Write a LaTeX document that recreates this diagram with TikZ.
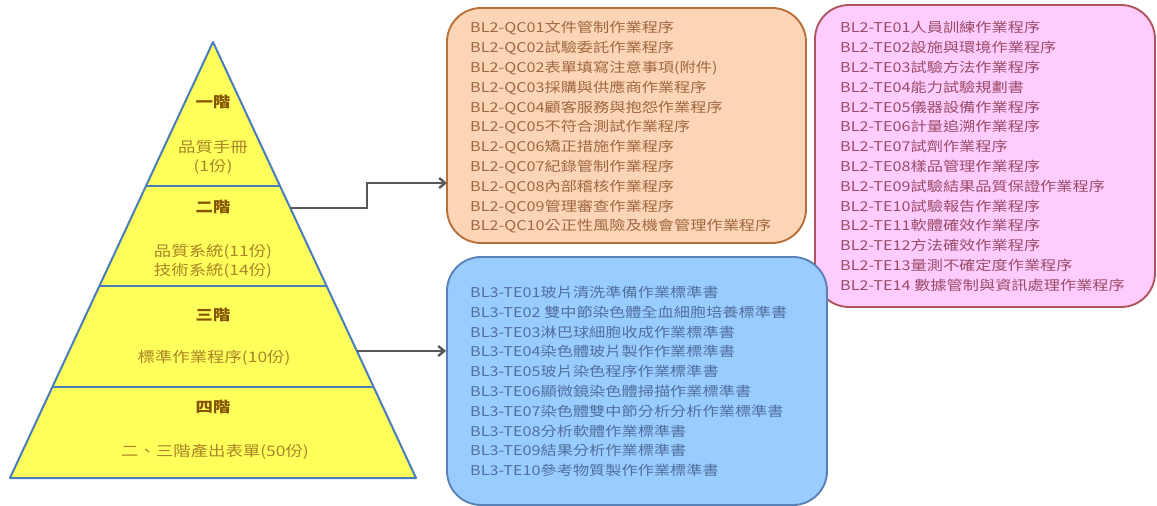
\documentclass[tikz,border=0pt]{standalone}
\usepackage{fontspec}
\newfontfamily\zhfont[FakeStretch=1.2]{Noto Sans CJK TC}
\usetikzlibrary{arrows.meta}
\definecolor{tierfill}{HTML}{FFFF5C}
\definecolor{tierline}{HTML}{4A7EBB}
\definecolor{tierhead}{HTML}{845404}
\definecolor{tiertext}{HTML}{AA8426}
\definecolor{qcfill}{HTML}{FBD5B5}
\definecolor{qcline}{HTML}{B8703A}
\definecolor{qcink}{HTML}{A06842}
\definecolor{tefill}{HTML}{FFCCFF}
\definecolor{teline}{HTML}{B05560}
\definecolor{teink}{HTML}{9A4C66}
\definecolor{blfill}{HTML}{99CCFF}
\definecolor{blline}{HTML}{5A82B8}
\definecolor{blink}{HTML}{52709C}
\definecolor{linkgray}{HTML}{585858}
\begin{document}
\begin{tikzpicture}[x=1pt,y=-1pt,
tier/.style={fill=tierfill,draw=tierline,line width=2pt,line join=round},
divider/.style={draw=tierline,line width=2.8pt},
level/.style={font=\zhfont\fontsize{14.5}{18}\selectfont\bfseries,text=tierhead},
count/.style={align=center,font=\zhfont\fontsize{14.5}{19}\selectfont,text=tiertext},
listbox/.style={rounded corners=34pt,line width=1.9pt,inner sep=0pt},
list/.style={anchor=west,align=left,inner sep=0pt,font=\zhfont\fontsize{13.5}{19.8}\selectfont},
link/.style={-{Straight Barb[length=6pt,width=10pt]},line width=2.4pt,draw=linkgray},
]
\useasboundingbox(0,0)rectangle(1157,506);
%pyramid
\draw[tier](213,42)--(416,478)--(10,478)--cycle;
\draw[divider](146,186)--(280,186);
\draw[divider](99.4,286)--(326.6,286);
\draw[divider](52.4,387)--(373.6,387);
%tiers
\node[level](l1)at(213,102){一階};
\node[count](c1)at(213,157.5){品質手冊\\(1份)};
\node[level](l2)at(213,207){二階};
\node[count](c2)at(213,261.5){品質系統(11份)\\技術系統(14份)};
\node[level](l3)at(213,315){三階};
\node[count](c3)at(214,358){標準作業程序(10份)};
\node[level](l4)at(213,407){四階};
\node[count](c4)at(215,452){二、三階產出表單(50份)};
%document boxes
\node[listbox,fill=qcfill,draw=qcline,minimum width=359,minimum height=235](qc)at(626.5,125.5){};
\node[list,text=qcink](qcdocs)at(470,127.5){%
BL2-QC01文件管制作業程序\\
BL2-QC02試驗委託作業程序\\
BL2-QC02表單填寫注意事項(附件)\\
BL2-QC03採購與供應商作業程序\\
BL2-QC04顧客服務與抱怨作業程序\\
BL2-QC05不符合測試作業程序\\
BL2-QC06矯正措施作業程序\\
BL2-QC07紀錄管制作業程序\\
BL2-QC08內部稽核作業程序\\
BL2-QC09管理審查作業程序\\
BL2-QC10公正性風險及機會管理作業程序};
\node[listbox,fill=tefill,draw=teline,minimum width=340,minimum height=302](te)at(985,156){};
\node[list,text=teink](tedocs)at(840,156.5){%
BL2-TE01人員訓練作業程序\\
BL2-TE02設施與環境作業程序\\
BL2-TE03試驗方法作業程序\\
BL2-TE04能力試驗規劃書\\
BL2-TE05儀器設備作業程序\\
BL2-TE06計量追溯作業程序\\
BL2-TE07試劑作業程序\\
BL2-TE08樣品管理作業程序\\
BL2-TE09試驗結果品質保證作業程序\\
BL2-TE10試驗報告作業程序\\
BL2-TE11軟體確效作業程序\\
BL2-TE12方法確效作業程序\\
BL2-TE13量測不確定度作業程序\\
BL2-TE14 數據管制與資訊處理作業程序};
\node[listbox,fill=blfill,draw=blline,minimum width=380,minimum height=248](bl3)at(637,381){};
\node[list,text=blink](bl3docs)at(470,381.5){%
BL3-TE01玻片清洗準備作業標準書\\
BL3-TE02 雙中節染色體全血細胞培養標準書\\
BL3-TE03淋巴球細胞收成作業標準書\\
BL3-TE04染色體玻片製作作業標準書\\
BL3-TE05玻片染色程序作業標準書\\
BL3-TE06顯微鏡染色體掃描作業標準書\\
BL3-TE07染色體雙中節分析分析作業標準書\\
BL3-TE08分析軟體作業標準書\\
BL3-TE09結果分析作業標準書\\
BL3-TE10參考物質製作作業標準書};
%links
\coordinate(t2)at(290,208);
\coordinate(t3)at(357,351);
\coordinate(qcin)at(447,183);
\draw[link](t2)-|(367,183)--(qcin);
\draw[link](t3)--(bl3.west|-t3);
\end{tikzpicture}
\end{document}
